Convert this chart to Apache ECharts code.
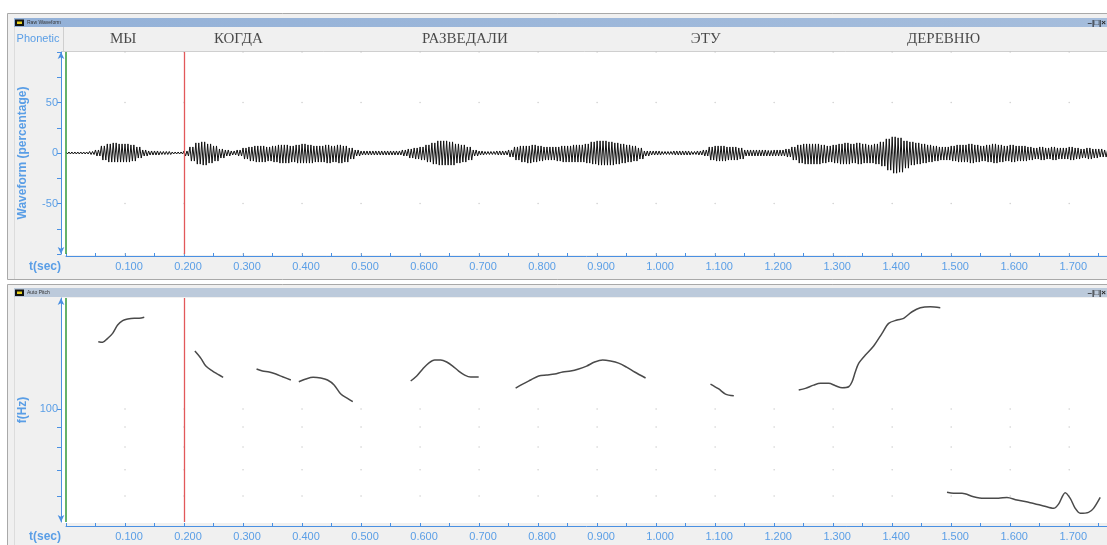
<!DOCTYPE html>
<html><head><meta charset="utf-8">
<script src="https://cdn.jsdelivr.net/npm/echarts@6/dist/echarts.min.js"></script>
<style>html,body{margin:0;padding:0;background:#fff;}#c{width:1107px;height:545px;}</style>
</head><body><div id="c"></div>
<script>
// ---------------- DATA ----------------
const T_MAX = 1.764;                       // seconds shown on the time axes
const timeTicks = [0.1,0.2,0.3,0.4,0.5,0.6,0.7,0.8,0.9,1.0,1.1,1.2,1.3,1.4,1.5,1.6,1.7];
const phoneticWords = ['МЫ', 'КОГДА', 'РАЗВЕДАЛИ', 'ЭТУ', 'ДЕРЕВНЮ'];
const phoneticTimes = [0.097, 0.292, 0.676, 1.084, 1.487];
const cursorTime = 0.195;                  // red cursor
const startTime = 0;                       // green cursor

// waveform envelope, one value per 10 ms (percent)
const WAVE_STEP = 0.01;
const wavePos = [
  1,1,1,1,1.5,3,7,9,10,9,
  9,8,6,3,2,2,1.5,1.5,1,1,
  2,6,10,11,9,7,4,3,2,3,
  5,6,7,7,6,7,8,8,7,8,
  9,8,7,7,8,7,8,7,5,3,
  2,2,2,2,2,2,2,3,4,5,
  6,8,10,12,12,11,9,8,6,3,
  2,1.5,1.5,2,2,3,6,7,7,8,
  7,6,6,6,7,7,8,8,9,11,
  12,12,11,10,9,8,7,5,2,2,
  2,1.5,1.5,2,2,2,1.5,2,3,6,
  7,7,6,6,5,3,3,3,3,2.5,
  3,3,4,6,8,9,9,9,8,7,
  8,9,10,9,10,9,8,9,11,14,
  16,15,12,11,10,9,8,7,6,6,
  7,8,8,9,8,7,8,9,8,7,
  8,7,7,6,5,6,5,6,5,5,
  6,5,4,5,4,4,3
];
const waveNeg = [
  1,1,1,1,1.5,3,7,9,9,9,
  9,8,5,3,2,2,1.5,1.5,1,1,
  3,8,11,12,10,8,5,3,2,3,
  6,8,9,9,8,9,10,10,9,10,
  10,10,9,9,10,9,10,9,6,3,
  2,2,2,2,2,2,2,3,5,6,
  7,9,11,12,12,12,10,9,7,3,
  2,1.5,1.5,2,2,4,7,9,10,9,
  8,7,7,8,9,9,9,9,10,11,
  12,12,12,11,10,9,8,6,3,2,
  2,1.5,1.5,2,2,2,1.5,2,3,7,
  8,8,7,7,6,3,3,3,3,3,
  3,3,4,7,10,11,11,11,10,9,
  10,11,11,10,11,10,10,11,13,17,
  20,19,15,12,11,10,9,8,7,7,
  8,9,9,10,9,8,9,10,9,8,
  9,8,8,7,6,7,6,7,6,6,
  7,6,5,6,5,4,4
];
const waveTicks = [-100, -50, 0, 50, 100];

// pitch contour (Hz); null separates voiced stretches
const pitchTime = [
  0.0547,0.0621,0.0706,0.0790,0.0875,0.0960,0.1045,0.1157,0.1241,0.1326, null,
  0.2184,0.2286,0.2370,0.2484,0.2569,0.2663, null,
  0.3229,0.3330,0.3443,0.3556,0.3669,0.3810, null,
  0.3945,0.4064,0.4187,0.4317,0.4431,0.4543,0.4657,0.4770,0.4860, null,
  0.5841,0.5943,0.6045,0.6146,0.6248,0.6350,0.6451,0.6553,0.6654,0.6756,0.6857,0.6993, null,
  0.7619,0.7738,0.7874,0.8010,0.8145,0.8281,0.8416,0.8551,0.8687,0.8822,0.8957,0.9093,0.9228,0.9364,0.9499,0.9635,0.9821, null,
  1.0921,1.1061,1.1175,1.1316, null,
  1.2416,1.2530,1.2670,1.2784,1.2924,1.3038,1.3151,1.3263,1.3320,1.3376,1.3432,1.3546,1.3686,1.3828,1.3940,1.4082,1.4194,1.4337,1.4477,1.4646,1.4815, null,
  1.4929,1.5040,1.5183,1.5379,1.5549,1.5803,1.5945,1.6114,1.6339,1.6565,1.6734,1.6819,1.6932,1.7017,1.7102,1.7186,1.7327,1.7412,1.7525
];
const pitchHz = [
  148.5,148,151.5,156,163.8,168,169.7,170.4,170.4,171.4, null,
  140.6,134.7,128.7,125,122.8,120.5, null,
  126.5,125,124.3,122.8,120.9,118.6, null,
  117.4,119.3,120.5,120,118.6,115.2,109.2,106.5,104.4, null,
  117.9,121.4,126.5,131,133.4,133.4,131.8,128.7,125,122.1,120.7,120.7, null,
  113.1,115.8,118.6,121.4,122.1,122.8,124.3,125,126.5,128.7,131.8,133.4,132.6,131,127.9,124.3,120, null,
  115.8,112.5,109.2,108.1, null,
  111.8,112.9,115.1,116.3,116.3,114.7,113.3,114,117.4,124.5,130.8,137.3,144.8,156,165.4,168.7,170.4,177.1,181.3,182.4,181.3, null,
  61.3,60.95,60.95,59.75,59.2,59.2,59.5,58.6,57.7,56.6,55.8,57.2,61.2,59.2,55.8,54.2,54.5,55.8,59.5
];
const pitchTicks = [60, 70, 80, 90, 100];
const pitchLabels = [100];
const PITCH_MIN = 51.5, PITCH_MAX = 192;

// ---------------- BUILD ----------------
const blue = '#4a90e2';
const textBlue = '#5a9ee6';
const sans = '"Liberation Sans", Arial, sans-serif';
const L = 66, W = 1041;

// each 10 ms envelope bin is drawn as two up/down swings between its read extremes
const waveData = [];
wavePos.forEach((p, i) => {
  const t = i * WAVE_STEP;
  waveData.push([t, p]);
  waveData.push([t + WAVE_STEP * 0.25, -waveNeg[i]]);
  waveData.push([t + WAVE_STEP * 0.5, p]);
  waveData.push([t + WAVE_STEP * 0.75, -waveNeg[i]]);
});

const pitchSegments = [];
let cur = [];
pitchTime.forEach((t, i) => {
  if (t === null) { if (cur.length) pitchSegments.push(cur); cur = []; }
  else cur.push([t, Math.log10(pitchHz[i])]);
});
if (cur.length) pitchSegments.push(cur);

const waveDots = [];
timeTicks.forEach(t => waveTicks.forEach(v => waveDots.push([t, v])));
const pitchDots = [];
timeTicks.forEach(t => pitchTicks.forEach(v => pitchDots.push([t, Math.log10(v)])));

function timeAxis(grid, offset) {
  return {
    gridIndex: grid, type: 'value', min: 0, max: T_MAX, interval: 0.1, offset: offset,
    axisLine: { show: true, onZero: false, lineStyle: { color: blue, width: 1 } },
    axisTick: { show: true, inside: true, length: 3, lineStyle: { color: blue } },
    minorTick: { show: true, splitNumber: 2, length: 3, lineStyle: { color: blue } },
    splitLine: { show: false },
    axisLabel: { formatter: v => v.toFixed(3), color: textBlue, fontSize: 11, fontFamily: sans,
                 showMinLabel: false, showMaxLabel: false, margin: 5, padding: [0, 0, 0, 8] },
    name: 't(sec)', nameLocation: 'start', nameGap: 5,
    nameTextStyle: { color: textBlue, fontWeight: 'bold', fontSize: 12, fontFamily: sans,
                     verticalAlign: 'top', padding: [5, 0, 0, 0] }
  };
}
const markCursors = {
  silent: true, symbol: ['none', 'none'], label: { show: false }, animation: false,
  data: [
    { xAxis: startTime, lineStyle: { color: '#3f9f45', width: 1.6, type: 'solid' } },
    { xAxis: cursorTime, lineStyle: { color: '#e2585a', width: 1.3, type: 'solid' } }
  ]
};

const chrome = [
  // top window
  { type: 'rect', z: -20, silent: true, shape: { x: 7.5, y: 13.5, width: 1110, height: 266 }, style: { fill: '#f0f0f0', stroke: '#a9a9a9', lineWidth: 1 } },
  { type: 'rect', z: -19, silent: true, shape: { x: 14, y: 18, width: 1093, height: 9 },
    style: { fill: new echarts.graphic.LinearGradient(0, 0, 1, 0, [{ offset: 0, color: '#93b1d8' }, { offset: 1, color: '#a5bddc' }]) } },
  { type: 'rect', z: -19, silent: true, shape: { x: 62, y: 52, width: 1045, height: 203 }, style: { fill: '#ffffff' } },
  { type: 'line', z: -18, silent: true, shape: { x1: 62, y1: 51.5, x2: 1107, y2: 51.5 }, style: { stroke: '#cfcfcf', lineWidth: 1 } },
  { type: 'line', z: -18, silent: true, shape: { x1: 63.5, y1: 27, x2: 63.5, y2: 52 }, style: { stroke: '#cfcfcf', lineWidth: 1 } },
  { type: 'line', z: -18, silent: true, shape: { x1: 14.5, y1: 27, x2: 14.5, y2: 279 }, style: { stroke: '#dcdcdc', lineWidth: 1 } },
  // bottom window
  { type: 'rect', z: -20, silent: true, shape: { x: 7.5, y: 284.5, width: 1110, height: 270 }, style: { fill: '#f0f0f0', stroke: '#a9a9a9', lineWidth: 1 } },
  { type: 'rect', z: -19, silent: true, shape: { x: 14, y: 288, width: 1093, height: 9 }, style: { fill: '#bccadb' } },
  { type: 'rect', z: -19, silent: true, shape: { x: 62, y: 298, width: 1045, height: 225 }, style: { fill: '#ffffff' } },
  { type: 'line', z: -18, silent: true, shape: { x1: 14.5, y1: 297, x2: 14.5, y2: 545 }, style: { stroke: '#dcdcdc', lineWidth: 1 } },
  // title bar icons + titles
  { type: 'rect', z: 5, silent: true, shape: { x: 15, y: 19.5, width: 9, height: 6.5 }, style: { fill: '#111' } },
  { type: 'rect', z: 6, silent: true, shape: { x: 17, y: 21.5, width: 5, height: 2.5 }, style: { fill: '#e8d21e' } },
  { type: 'text', z: 6, silent: true, x: 27, y: 22.5, style: { text: 'Raw Waveform', fontSize: 5, fill: '#333', fontFamily: sans, verticalAlign: 'middle' } },
  { type: 'rect', z: 5, silent: true, shape: { x: 15, y: 289.5, width: 9, height: 6.5 }, style: { fill: '#111' } },
  { type: 'rect', z: 6, silent: true, shape: { x: 17, y: 291.5, width: 5, height: 2.5 }, style: { fill: '#e8d21e' } },
  { type: 'text', z: 6, silent: true, x: 27, y: 292.5, style: { text: 'Auto Pitch', fontSize: 5, fill: '#333', fontFamily: sans, verticalAlign: 'middle' } },
  { type: 'text', z: 6, silent: true, x: 1106, y: 22.5, style: { text: '–|□|×', fontSize: 8, fontWeight: 'bold', fill: '#222', fontFamily: sans, align: 'right', verticalAlign: 'middle' } },
  { type: 'text', z: 6, silent: true, x: 1106, y: 292.5, style: { text: '–|□|×', fontSize: 8, fontWeight: 'bold', fill: '#222', fontFamily: sans, align: 'right', verticalAlign: 'middle' } },
  // Phonetic label
  { type: 'text', z: 6, silent: true, x: 38, y: 39, style: { text: 'Phonetic', fontSize: 11, fill: textBlue, fontFamily: sans, align: 'center', verticalAlign: 'middle' } }
];

const option = {
  animation: false,
  backgroundColor: '#ffffff',
  graphic: chrome,
  grid: [
    { left: L, top: 27, width: W, height: 24 },
    { left: L, top: 52, width: W, height: 202 },
    { left: L, top: 298, width: W, height: 224 }
  ],
  xAxis: [
    { gridIndex: 0, type: 'value', min: 0, max: T_MAX, show: false },
    timeAxis(1, 2),
    timeAxis(2, 4)
  ],
  yAxis: [
    { gridIndex: 0, type: 'value', min: 0, max: 1, show: false },
    {
      gridIndex: 1, type: 'value', min: -100, max: 100, interval: 50, offset: 5,
      axisLine: { show: true, onZero: false, symbol: ['arrow', 'arrow'], symbolSize: [5, 7], lineStyle: { color: blue } },
      axisTick: { show: true, length: 4, lineStyle: { color: blue } },
      minorTick: { show: true, splitNumber: 2, length: 4, lineStyle: { color: blue } },
      splitLine: { show: false },
      axisLabel: { color: textBlue, fontSize: 11, fontFamily: sans, showMinLabel: false, showMaxLabel: false, margin: 3 },
      name: 'Waveform (percentage)', nameLocation: 'middle', nameRotate: 90, nameGap: 32,
      nameTextStyle: { color: textBlue, fontWeight: 'bold', fontSize: 12, fontFamily: sans }
    },
    {
      gridIndex: 2, type: 'value', min: Math.log10(PITCH_MIN), max: Math.log10(PITCH_MAX), offset: 5,
      axisLine: { show: true, onZero: false, symbol: ['arrow', 'arrow'], symbolSize: [5, 7], lineStyle: { color: blue } },
      axisTick: { show: true, length: 4, lineStyle: { color: blue }, customValues: pitchTicks.map(v => Math.log10(v)) },
      splitLine: { show: false },
      axisLabel: { color: textBlue, fontSize: 11, fontFamily: sans, margin: 3,
                   customValues: pitchLabels.map(v => Math.log10(v)),
                   formatter: v => String(Math.round(Math.pow(10, v))) },
      name: 'f(Hz)', nameLocation: 'middle', nameRotate: 90, nameGap: 29,
      nameTextStyle: { color: textBlue, fontWeight: 'bold', fontSize: 12, fontFamily: sans }
    }
  ],
  series: [
    {
      type: 'scatter', xAxisIndex: 0, yAxisIndex: 0, symbolSize: 0, silent: true,
      data: phoneticTimes.map((t, i) => ({ value: [t, 0.5], name: phoneticWords[i] })),
      label: { show: true, position: 'inside', formatter: p => p.name, color: '#1e1e1e',
               fontFamily: '"Liberation Serif", "Times New Roman", serif', fontSize: 15 }
    },
    {
      type: 'scatter', xAxisIndex: 1, yAxisIndex: 1, symbolSize: 1.6, silent: true, z: 1,
      itemStyle: { color: '#c4c4c4' }, data: waveDots
    },
    {
      type: 'line', xAxisIndex: 1, yAxisIndex: 1, data: waveData, showSymbol: false, silent: true,
      sampling: 'none', clip: true, lineStyle: { color: '#111', width: 1 }, markLine: markCursors
    },
    {
      type: 'scatter', xAxisIndex: 2, yAxisIndex: 2, symbolSize: 1.6, silent: true, z: 1,
      itemStyle: { color: '#c4c4c4' }, data: pitchDots, markLine: markCursors
    }
  ].concat(pitchSegments.map(seg => ({
    type: 'line', xAxisIndex: 2, yAxisIndex: 2, data: seg, showSymbol: false, silent: true,
    smooth: 0.3, lineStyle: { color: '#4a4a4a', width: 1.5 }
  })))
};

const chart = echarts.init(document.getElementById('c'), null, { renderer: 'canvas' });
chart.setOption(option);
</script>
</body></html>
